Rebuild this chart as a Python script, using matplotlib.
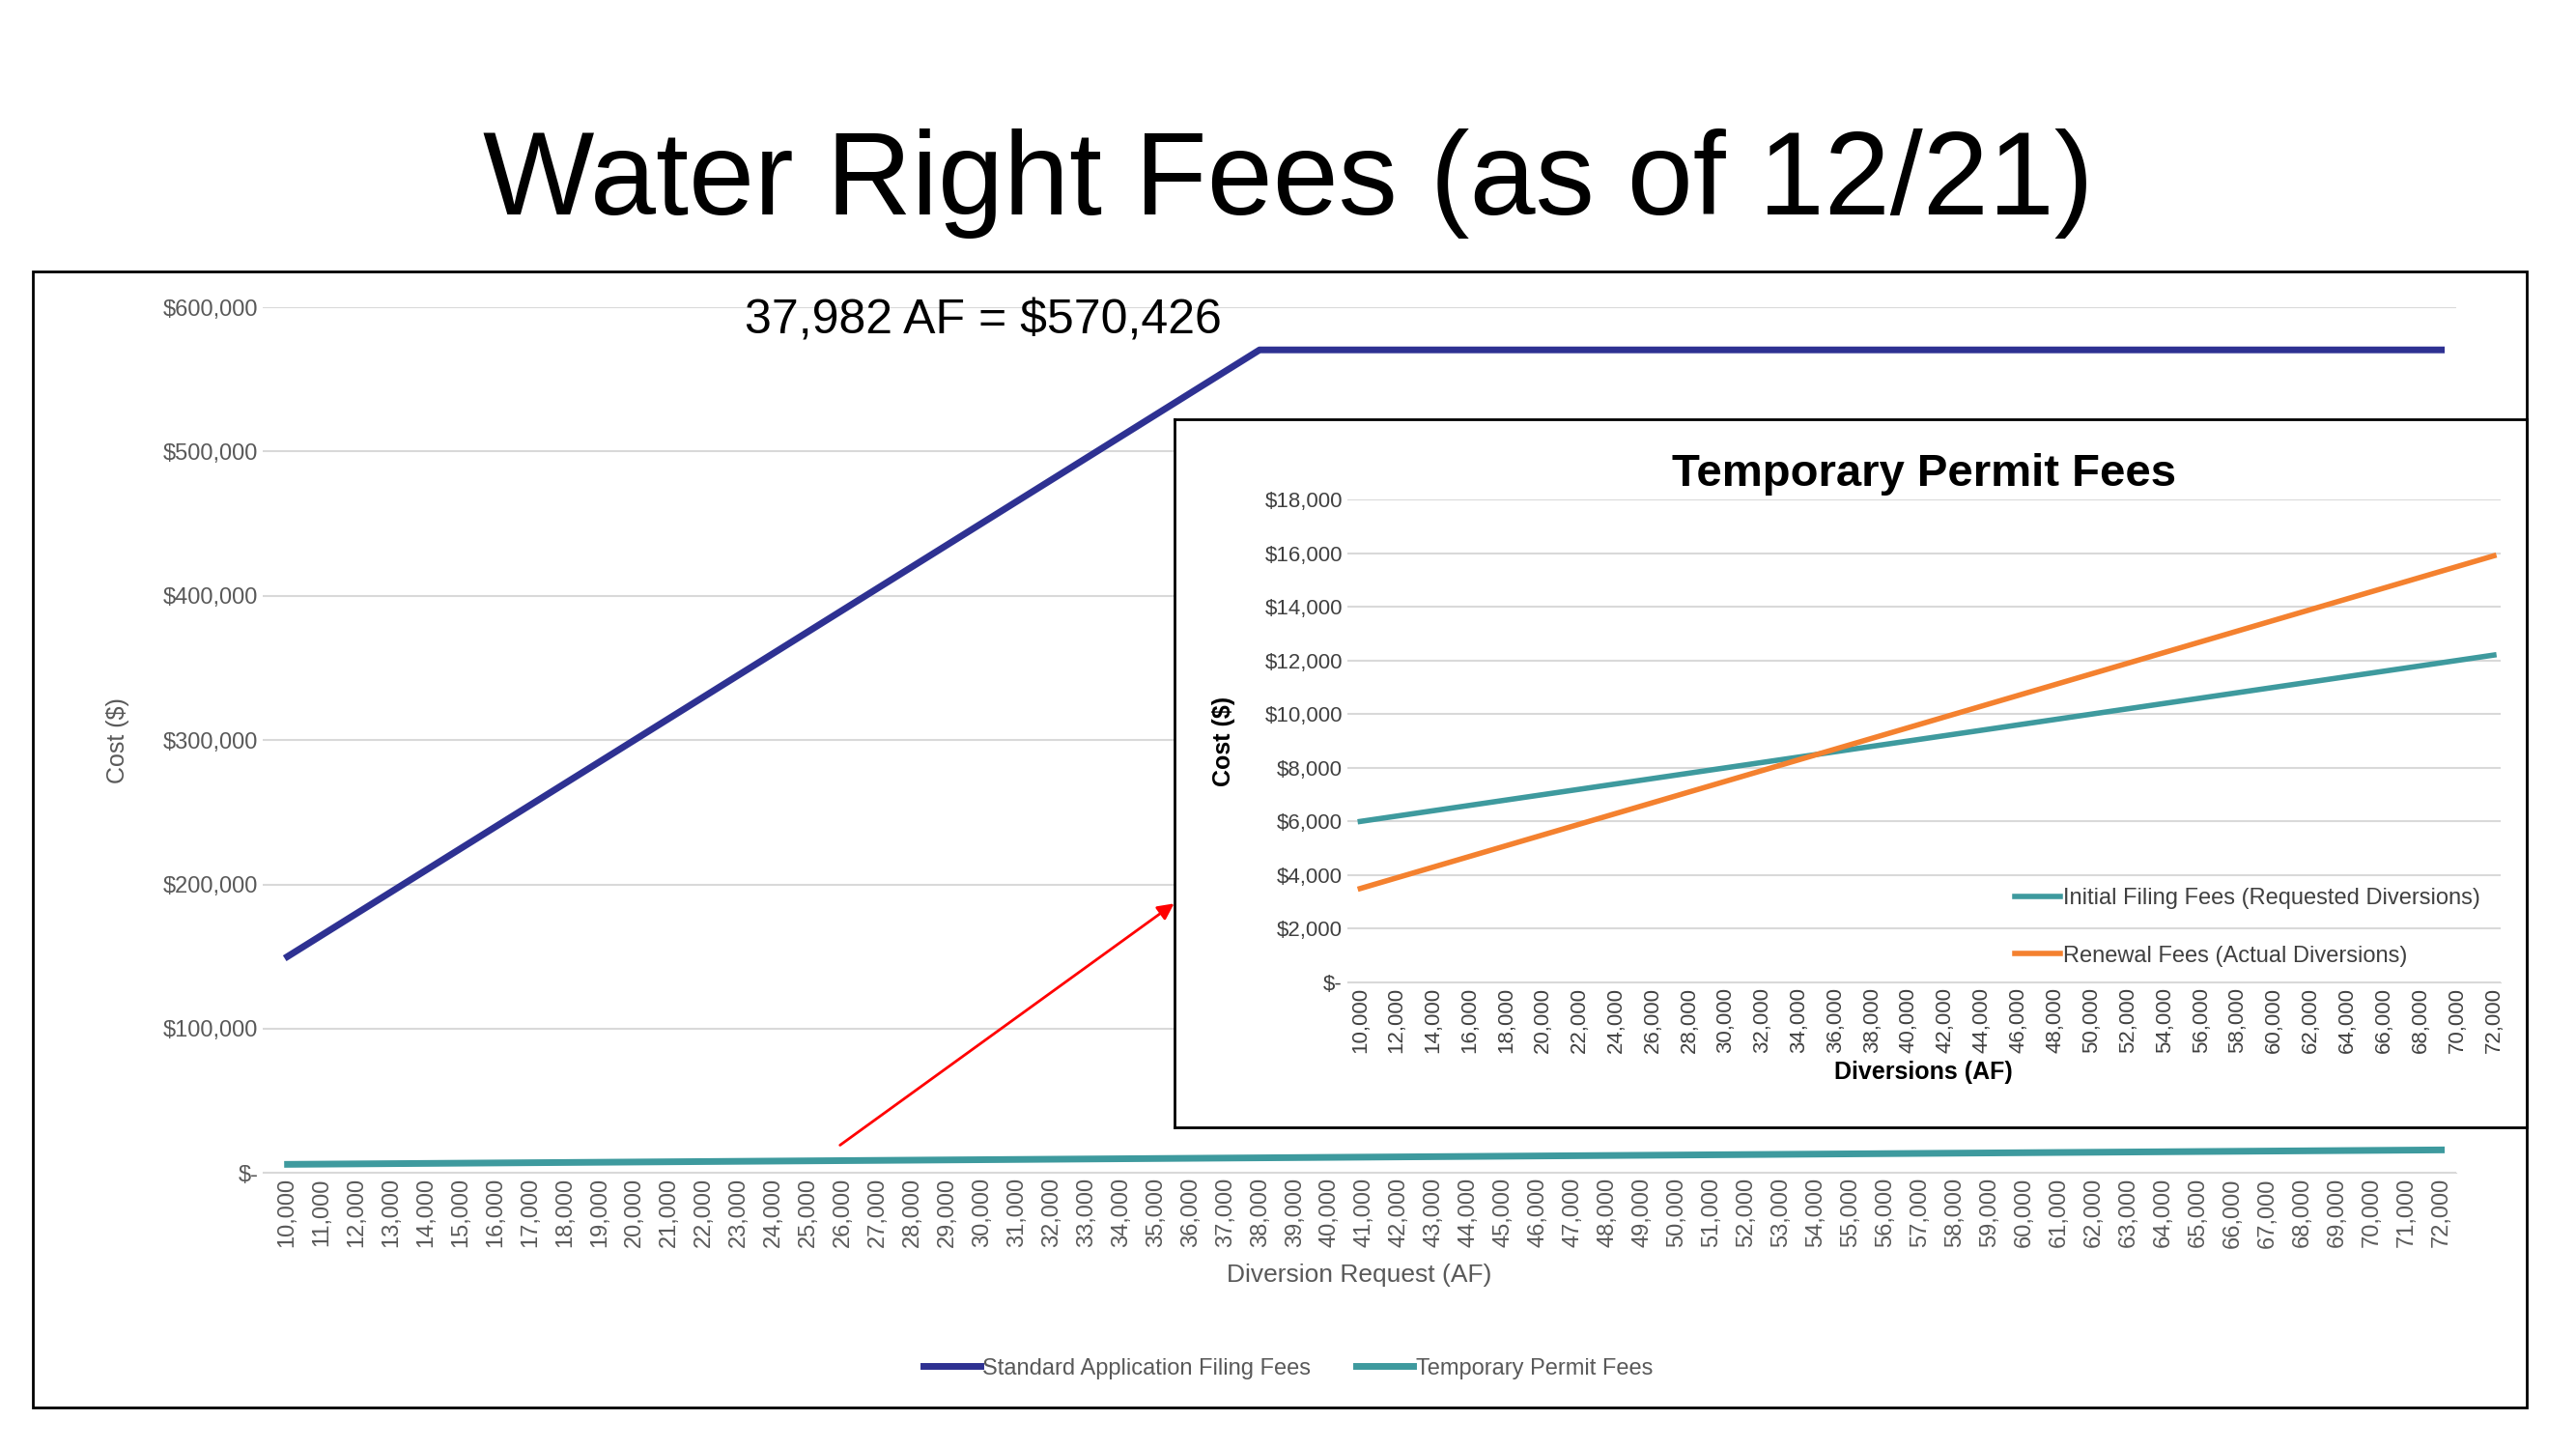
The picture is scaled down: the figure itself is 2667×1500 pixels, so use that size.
import matplotlib
matplotlib.use('Agg')
import matplotlib.pyplot as plt
from matplotlib.patches import Rectangle

plt.rcParams['font.family'] = ['Liberation Sans', 'DejaVu Sans']

# standard application filing fees: breakpoints of the fee schedule
std_af = [10000, 37982, 72000]
std_cost = [150000, 570426, 570426]

# temporary permit fees
tmp_af = [10000, 72000]
initial_fees = [6000, 12200]
renewal_fees = [3500, 15900]
main_temp_fees = [6000, 16000]

main_ticks = list(range(10000, 72001, 1000))
inset_ticks = list(range(10000, 72001, 2000))

BLUE = '#2E3192'
TEAL = '#3E9A9E'
ORANGE = '#F4812F'
GRAY = '#595959'
GRID = '#D9D9D9'

W, H = 1568.0, 882.0
def box(x0, y0, x1, y1):
    return [x0 / W, 1 - y1 / H, (x1 - x0) / W, (y1 - y0) / H]

def money(v, pos=None):
    return '$-' if v == 0 else '${:,.0f}'.format(v)

fig = plt.figure(figsize=(26.67, 15), dpi=100)
fig.text(0.5, 1 - 112 / H, 'Water Right Fees (as of 12/21)', ha='center', va='center', fontsize=88)
fig.add_artist(Rectangle((20 / W, 1 - 857 / H), 1518 / W, 692 / H, transform=fig.transFigure,
                         fill=False, edgecolor='black', linewidth=2))

ax = fig.add_axes(box(160, 187, 1495, 714))
ax.plot(std_af, std_cost, color=BLUE, lw=5, label='Standard Application Filing Fees')
ax.plot(tmp_af, main_temp_fees, color=TEAL, lw=5, label='Temporary Permit Fees')
ax.set_xlim(9290, 72425)
ax.set_ylim(0, 600000)
ax.set_yticks(range(0, 600001, 100000))
ax.yaxis.set_major_formatter(money)
ax.set_xticks(main_ticks)
ax.set_xticklabels(['{:,}'.format(t) for t in main_ticks], rotation=90)
ax.tick_params(colors=GRAY, labelsize=17, length=0)
ax.grid(axis='y', color=GRID, lw=1.5)
ax.set_axisbelow(True)
for s in ax.spines.values():
    s.set_visible(False)
ax.spines['bottom'].set_visible(True)
ax.spines['bottom'].set_color(GRID)
ax.set_ylabel('Cost ($)', color=GRAY, fontsize=18, labelpad=25)
ax.set_xlabel('Diversion Request (AF)', color=GRAY, fontsize=19, labelpad=12)
ax.text(36900, 575000, '37,982 AF = $570,426', ha='right', va='bottom', fontsize=36)
fig.legend(*ax.get_legend_handles_labels(), loc='center', bbox_to_anchor=(0.5, 1 - 833 / H),
           ncol=2, frameon=False, fontsize=17, labelcolor=GRAY, handlelength=2.5,
           handletextpad=0.1, columnspacing=2)
fig.add_artist(matplotlib.patches.FancyArrowPatch((510 / W, 1 - 698 / H), (716 / W, 1 - 549 / H),
               transform=fig.transFigure, arrowstyle='-|>', mutation_scale=25, color='red', lw=2))

bx = fig.add_axes(box(715, 255, 1538, 686))
bx.set_xticks([]); bx.set_yticks([])
for s in bx.spines.values():
    s.set_linewidth(2)

ix = fig.add_axes(box(820, 304, 1522, 598))
ix.patch.set_alpha(0)
ix.plot(tmp_af, initial_fees, color=TEAL, lw=4, label='Initial Filing Fees (Requested Diversions)')
ix.plot(tmp_af, renewal_fees, color=ORANGE, lw=4, label='Renewal Fees (Actual Diversions)')
ix.set_xlim(9281, 72360)
ix.set_ylim(0, 18000)
ix.set_yticks(range(0, 18001, 2000))
ix.yaxis.set_major_formatter(money)
ix.set_xticks(inset_ticks)
ix.set_xticklabels(['{:,}'.format(t) for t in inset_ticks], rotation=90)
ix.tick_params(colors='#404040', labelsize=16, length=0)
ix.grid(axis='y', color=GRID, lw=1.5)
ix.set_axisbelow(True)
for s in ix.spines.values():
    s.set_visible(False)
ix.spines['bottom'].set_visible(True)
ix.spines['bottom'].set_color(GRID)
ix.set_title('Temporary Permit Fees', fontsize=34, fontweight='bold', pad=10)
ix.set_ylabel('Cost ($)', fontsize=18, fontweight='bold', labelpad=22)
ix.set_xlabel('Diversions (AF)', fontsize=18, fontweight='bold', labelpad=6)
ix.legend(loc='lower right', bbox_to_anchor=(1.0, -0.01), frameon=False, fontsize=17,
          labelcolor='#404040', handlelength=2.0, handletextpad=0.1, labelspacing=1.6)

fig.savefig('out.png', dpi=100)
